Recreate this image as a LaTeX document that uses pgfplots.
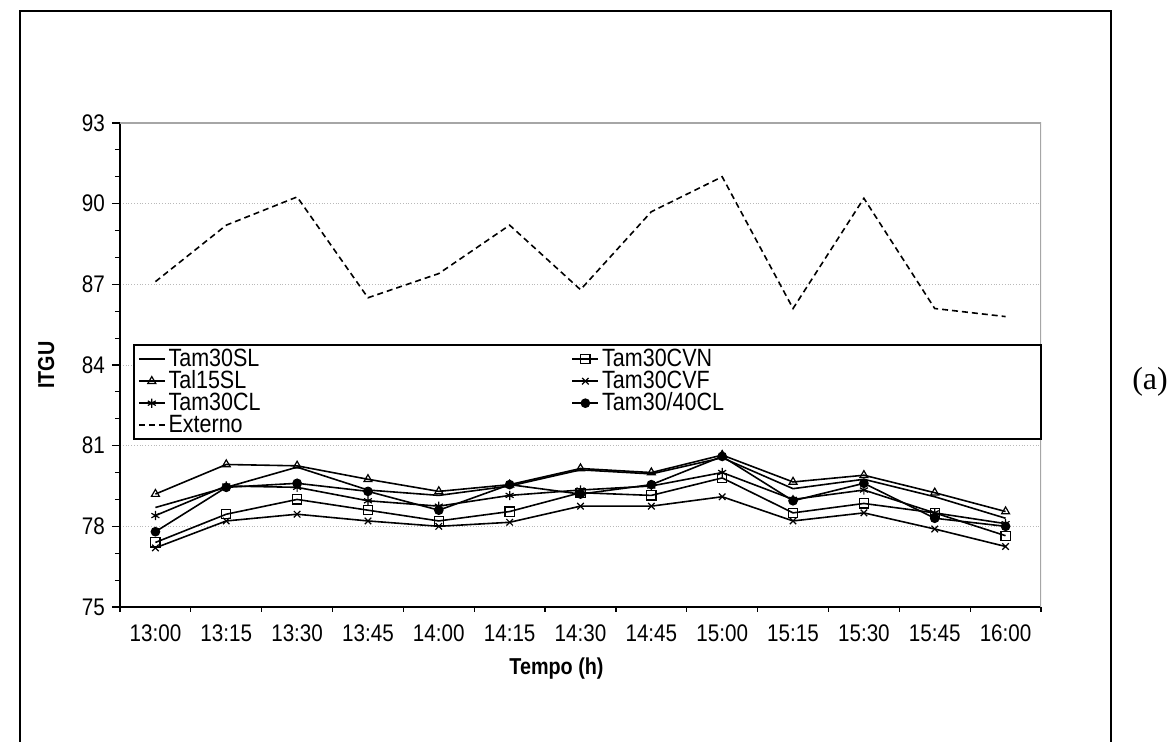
\documentclass[border=0pt]{standalone}
\usepackage{fontspec}
\setmainfont[FakeStretch=0.86]{Liberation Sans}
\newfontfamily\timesfont{Liberation Serif}
\usepackage{pgfplots}
\pgfplotsset{compat=1.18}

\begin{document}
\begin{tikzpicture}
% page: 1173x742 px at 0.5pt per px
\path[use as bounding box] (0pt,0pt) rectangle (586.5pt,371pt);
\draw[line width=1pt] (10pt,0pt) -- (10pt,365.5pt) -- (555.5pt,365.5pt) -- (555.5pt,0pt);
\node[font=\timesfont\fontsize{16}{18}\selectfont] at (575pt,180pt) {(a)};

\begin{axis}[
  at={(60pt,67.5pt)}, anchor=south west,
  scale only axis, width=460.5pt, height=242pt,
  xmin=-0.5, xmax=12.5, ymin=75, ymax=93,
  axis x line*=bottom, axis y line*=left,
  axis line style={-, line width=0.8pt},
  xtick={0,...,12},
  xticklabels={13:00,13:15,13:30,13:45,14:00,14:15,14:30,14:45,15:00,15:15,15:30,15:45,16:00},
  major x tick style={draw=none},
  minor xtick={-0.5,0.5,...,12.5},
  ytick={75,78,...,93}, minor y tick num=2,
  tick align=outside, major tick length=4pt, minor tick length=2.5pt,
  tick style={black, line width=0.6pt},
  ymajorgrids, major y grid style={densely dotted, gray!55},
  tick label style={font=\fontsize{12}{14}\selectfont},
  xticklabel style={yshift=-1.5pt},
  /pgf/number format/assume math mode=true,
  label style={font=\bfseries\fontsize{11.5}{13}\selectfont},
  xlabel={Tempo (h)}, ylabel={ITGU},
  xlabel style={xshift=-12pt, yshift=-1pt},
  ylabel style={yshift=7pt},
  every axis plot/.append style={black, line width=0.8pt},
  mark size=2.3pt,
  legend columns=2,
  legend cell align=left,
  legend image code/.code={\draw[mark repeat=2,mark phase=2] plot coordinates {(0pt,0pt) (6.5pt,0pt) (13pt,0pt)};},
  legend style={at={(rel axis cs:0.0141,0.543)}, anchor=north west,
    draw=black, line width=1pt, inner xsep=2pt, inner ysep=1pt,
    font=\fontsize{12.5}{11}\selectfont,
    nodes={inner xsep=1.5pt, inner ysep=1pt, text height=8.5pt, text depth=1.5pt},
    row sep=-1pt},
]
\draw[gray!70, line width=0.6pt] (rel axis cs:0,1) -- (rel axis cs:1,1) -- (rel axis cs:1,0);

% Tam30SL
\addplot[mark=none] coordinates {(0,78.7) (1,79.45) (2,80.2) (3,79.35) (4,79.15) (5,79.5) (6,80.1) (7,79.95) (8,80.55) (9,79.4) (10,79.75) (11,79.1) (12,78.3)};
\addlegendentry{\makebox[200pt][l]{Tam30SL}}
% Tam30CVN
\addplot[mark=square, mark options={solid, fill=white, line width=0.6pt}] coordinates {(0,77.4) (1,78.45) (2,79.0) (3,78.6) (4,78.2) (5,78.55) (6,79.25) (7,79.15) (8,79.8) (9,78.5) (10,78.85) (11,78.5) (12,77.65)};
\addlegendentry{\makebox[216pt][l]{Tam30CVN}}
% Tal15SL
\addplot[mark=triangle, mark options={solid, fill=white, line width=0.6pt}] coordinates {(0,79.2) (1,80.3) (2,80.25) (3,79.75) (4,79.3) (5,79.55) (6,80.15) (7,80.0) (8,80.65) (9,79.65) (10,79.9) (11,79.25) (12,78.55)};
\addlegendentry{\makebox[200pt][l]{Tal15SL}}
% Tam30CVF
\addplot[mark=x, mark options={solid, line width=0.6pt}] coordinates {(0,77.2) (1,78.2) (2,78.45) (3,78.2) (4,78.0) (5,78.15) (6,78.75) (7,78.75) (8,79.1) (9,78.2) (10,78.5) (11,77.9) (12,77.25)};
\addlegendentry{\makebox[216pt][l]{Tam30CVF}}
% Tam30CL
\addplot[mark=asterisk, mark options={solid, line width=0.6pt}] coordinates {(0,78.4) (1,79.5) (2,79.45) (3,78.95) (4,78.75) (5,79.15) (6,79.35) (7,79.5) (8,80.0) (9,79.0) (10,79.35) (11,78.5) (12,78.1)};
\addlegendentry{\makebox[200pt][l]{Tam30CL}}
% Tam30/40CL
\addplot[mark=*, mark size=2pt, mark options={solid, fill=black}] coordinates {(0,77.8) (1,79.45) (2,79.6) (3,79.3) (4,78.6) (5,79.55) (6,79.2) (7,79.55) (8,80.6) (9,78.95) (10,79.6) (11,78.3) (12,78.0)};
\addlegendentry{\makebox[216pt][l]{Tam30/40CL}}
% Externo
\addplot[mark=none, dash pattern=on 3pt off 2pt] coordinates {(0,87.1) (1,89.2) (2,90.25) (3,86.5) (4,87.4) (5,89.2) (6,86.8) (7,89.7) (8,91.0) (9,86.1) (10,90.2) (11,86.1) (12,85.8)};
\addlegendentry{\makebox[200pt][l]{Externo}}
\end{axis}
\end{tikzpicture}
\end{document}
